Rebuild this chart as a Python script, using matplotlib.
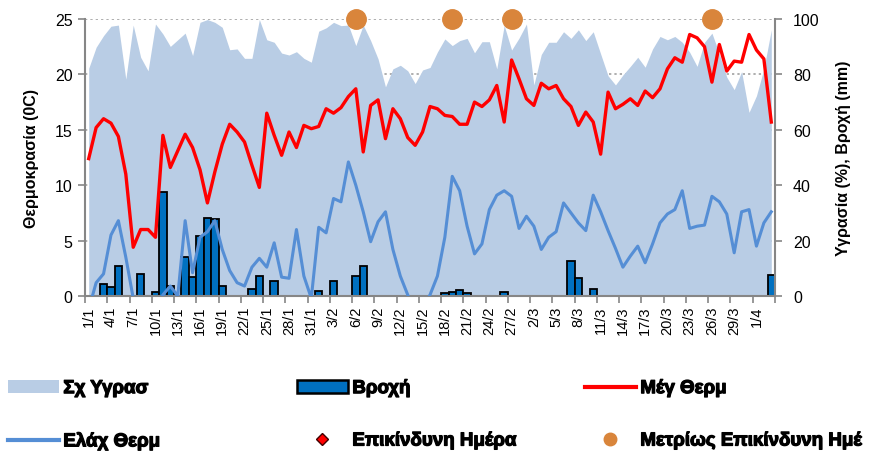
import numpy as np
import pandas as pd
import matplotlib
matplotlib.use("Agg")
import matplotlib.pyplot as plt
import matplotlib.patheffects as pe
from matplotlib.patches import Patch
from matplotlib.lines import Line2D

plt.rcParams['font.family'] = ['Liberation Sans', 'DejaVu Sans']

nan = np.nan

# ημέρες 1/1 έως 3/4
dates = pd.date_range('2010-01-01', periods=93)
day_labels = [f"{d.day}/{d.month}" for d in dates]

max_temp = [12.4, 15.2, 16.0, 15.6, 14.4, 11.0, 4.4, 6.0, 6.0, 5.3,
            14.5, 11.6, 13.1, 14.6, 13.4, 11.4, 8.4, 11.2, 13.7, 15.5,
            14.8, 13.9, 11.8, 9.8, 16.5, 14.5, 12.7, 14.8, 13.4, 15.4,
            15.1, 15.3, 16.9, 16.5, 17.0, 18.0, 18.7, 13.0, 17.2, 17.7,
            14.2, 16.9, 16.0, 14.3, 13.6, 14.8, 17.1, 16.9, 16.3, 16.2,
            15.5, 15.5, 17.5, 17.1, 17.7, 19.0, 15.7, 21.3, 19.6, 17.8,
            17.2, 19.2, 18.7, 19.0, 17.8, 17.1, 15.4, 16.6, 15.7, 12.8,
            18.4, 16.9, 17.3, 17.8, 17.2, 18.5, 17.9, 18.7, 20.5, 21.5,
            21.1, 23.6, 23.3, 22.5, 19.3, 22.7, 20.3, 21.2, 21.1, 23.6,
            22.2, 21.4, 15.7]

min_temp = [-1.2, 1.2, 2.0, 5.5, 6.8, 3.5, -0.2, -2.0, -1.5, -1.0,
            0.1, 0.9, 0.0, 6.8, 2.1, 5.3, 5.8, 6.8, 4.2, 2.3,
            1.2, 0.9, 2.6, 3.4, 2.6, 4.8, 1.7, 1.6, 6.0, 1.8,
            -0.2, 6.2, 5.7, 8.8, 8.5, 12.1, 10.0, 7.6, 4.9, 6.7,
            7.6, 4.2, 1.8, 0.1, -1.5, -1.0, 0.1, 1.8, 5.3, 10.8,
            9.5, 6.3, 3.8, 4.7, 7.8, 9.1, 9.5, 9.0, 6.1, 7.2,
            6.3, 4.2, 5.3, 5.8, 8.4, 7.5, 6.6, 5.9, 9.1, 7.6,
            5.9, 4.3, 2.6, 3.6, 4.5, 3.0, 4.7, 6.6, 7.4, 7.8,
            9.5, 6.1, 6.3, 6.4, 9.0, 8.5, 7.4, 3.9, 7.6, 7.8,
            4.5, 6.6, 7.6]

humidity = [82.2, 89.8, 94.0, 97.4, 97.8, 78.3, 97.8, 86.2, 81.3, 98.2,
            94.6, 90.1, 92.5, 94.9, 86.8, 98.8, 99.8, 98.8, 97.0, 88.9,
            89.2, 85.8, 85.8, 99.8, 92.5, 91.6, 87.7, 87.0, 88.2, 85.8,
            84.4, 95.6, 96.8, 98.8, 97.6, 97.8, 90.4, 97.8, 92.2, 85.6,
            75.5, 82.0, 83.3, 81.3, 76.7, 81.6, 82.5, 88.1, 92.8, 90.4,
            92.2, 93.0, 87.8, 91.8, 91.8, 82.0, 97.7, 88.8, 93.1, 98.2,
            76.2, 87.2, 91.6, 91.6, 95.4, 93.0, 96.1, 92.2, 95.4, 87.4,
            79.5, 76.2, 79.8, 82.9, 86.2, 82.6, 89.2, 93.7, 92.5, 93.7,
            91.6, 88.0, 82.9, 91.6, 94.9, 87.4, 79.0, 74.5, 81.0, 66.3,
            72.3, 82.0, 96.1]

rain = [nan, nan, 4.3, 3.1, 10.9, 0, nan, 7.9, nan, 1.6,
        37.7, 3.7, 0, 14.1, 6.7, 21.8, 28.3, 27.7, 3.7, nan,
        nan, nan, 2.5, 7.3, nan, 5.5, 0, nan, 0, nan,
        nan, 1.9, nan, 5.5, 0, nan, 7.2, 10.9, nan, nan,
        0, nan, nan, nan, nan, 0, nan, nan, 1.1, 1.6,
        2.2, 1.1, 0, nan, nan, nan, 1.3, 0, nan, nan,
        nan, nan, 0, 0, nan, 12.5, 6.5, nan, 2.5, 0,
        nan, nan, nan, nan, nan, 0, nan, nan, 0, nan,
        nan, 0, nan, nan, 0, nan, nan, nan, 0, nan,
        nan, nan, 7.5]

moderate_days = ['6/2', '19/2', '27/2', '26/3']
moderate_level = [100, 100, 100, 100]
danger_days = []
danger_level = []

grey = '#868686'
x = np.arange(len(day_labels))

fig = plt.figure(figsize=(8.75, 4.52), dpi=100)
ax1 = fig.add_axes([85 / 875, 1 - 297 / 452, 690 / 875, 277 / 452])
ax2 = ax1.twinx()

# δεξιός άξονας: υγρασία και βροχή
ax2.fill_between(x, humidity, color='#B9CDE5', lw=0, zorder=1)
ax2.bar(x, rain, width=1.0, color='#0070C0', edgecolor='black', lw=1.3, zorder=2)
mx = [day_labels.index(d) for d in moderate_days]
ax2.plot(mx, moderate_level, 'o', color='#D9853B', ms=14, clip_on=False, zorder=6)
ax2.set_ylim(0, 100)
ax2.set_yticks(range(0, 101, 20))
ax2.grid(axis='y', ls=(0, (1.5, 2)), color='#999999', lw=1.1)
ax2.set_axisbelow(True)

# αριστερός άξονας: θερμοκρασίες
ax1.set_zorder(ax2.get_zorder() + 1)
ax1.patch.set_visible(False)
ax1.plot(x, max_temp, color='#FF0000', lw=2.4, zorder=4)
ax1.plot(x, min_temp, color='#558ED5', lw=2.2, zorder=3)
dx = [day_labels.index(d) for d in danger_days]
ax1.plot(dx, danger_level, 'D', color='red')
ax1.set_ylim(0, 25)
ax1.set_xlim(-0.5, len(x) - 0.5)
ax1.set_yticks(range(0, 26, 5))

ax1.set_xticks(x[::3])
ax1.set_xticklabels(day_labels[::3], rotation=90, fontsize=10.5)
ax1.set_xticks(np.arange(-0.5, len(x), 3), minor=True)
ax1.tick_params(axis='x', which='major', length=0, pad=7)
ax1.tick_params(axis='x', which='minor', length=5, color=grey, width=1.2)
ax1.tick_params(axis='y', length=5, color=grey, width=1.2, labelsize=11.5, pad=4)
ax2.tick_params(axis='y', length=5, color=grey, width=1.2, labelsize=11.5, pad=8)

for s in ['top', 'right']:
    ax1.spines[s].set_visible(False)
for s in ['top', 'left', 'bottom']:
    ax2.spines[s].set_visible(False)
for ax, s in [(ax1, 'left'), (ax1, 'bottom'), (ax2, 'right')]:
    ax.spines[s].set_color(grey)
    ax.spines[s].set_linewidth(1.5)

ax1.set_ylabel('Θερμοκρασία (0C)', fontsize=11.5, fontweight='bold')
ax1.yaxis.set_label_coords(-0.066, 0.5)
ax2.set_ylabel('Υγρασία (%), Βροχή (mm)', fontsize=11.5, fontweight='bold')
ax2.yaxis.set_label_coords(1.088, 0.5)

# υπόμνημα σε τρεις στήλες (το τελευταίο κείμενο κόβεται όπως στο πρωτότυπο)
leg_font = {'family': ['Liberation Sans Narrow', 'Liberation Sans'], 'weight': 'bold', 'size': 13.5}
columns = [
    (8, [Patch(color='#B9CDE5', lw=0), Line2D([], [], color='#558ED5', lw=3)],
     ['Σχ Υγρασ', 'Ελάχ Θερμ']),
    (297, [Patch(facecolor='#0070C0', edgecolor='black', lw=1.8),
           Line2D([], [], ls='', marker='D', ms=6, mfc='red', mec='#400000')],
     ['Βροχή', 'Επικίνδυνη Ημέρα']),
    (585, [Line2D([], [], color='#FF0000', lw=3),
           Line2D([], [], ls='', marker='o', ms=9, color='#D9853B')],
     ['Μέγ Θερμ', 'Μετρίως Επικίνδυνη Ημέ']),
]
for x0, handles, labels in columns:
    leg = fig.legend(handles, labels, loc='upper left', bbox_to_anchor=(x0 / 875, 1 - 381 / 452),
                     frameon=False, prop=leg_font, handlelength=2.7, handleheight=0.7,
                     handletextpad=0.25, labelspacing=1.88, borderpad=0, borderaxespad=0)
    for t in leg.get_texts():
        t.set_path_effects([pe.withStroke(linewidth=0.9, foreground='black')])

fig.savefig('out.png', dpi=100)
